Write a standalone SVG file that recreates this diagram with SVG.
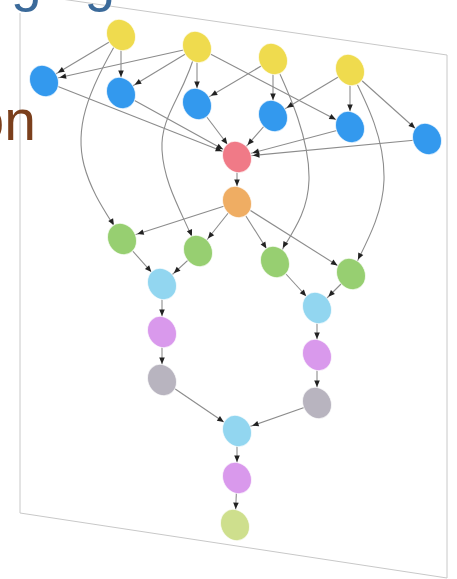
<svg xmlns="http://www.w3.org/2000/svg" width="457" height="579" viewBox="0 0 457 579">
<style>
.e{fill:none;stroke:#8c8c8c;stroke-width:1.1;marker-end:url(#a)}
.n circle{stroke:#fff;stroke-opacity:.7;stroke-width:1}
.y{fill:#efdb4e}.b{fill:#3399ee}.r{fill:#f07a87}.o{fill:#efad63}.g{fill:#97cf71}.c{fill:#92d6f0}.p{fill:#d999ec}.s{fill:#b8b4bf}.l{fill:#cedf8d}
.t{font-family:"Liberation Sans",Arial,sans-serif}
</style>
<defs>
<marker id="a" markerUnits="userSpaceOnUse" viewBox="-30 -5 40 10" markerWidth="40" markerHeight="10" refX="0" refY="0" orient="auto" overflow="visible">
<path d="M-22.5,-2.8 L-16,0 L-22.5,2.8 z" fill="#222"/>
</marker>
</defs>
<rect width="457" height="579" fill="#fff"/>
<path d="M20,13 V513 L447,578 V55 L20,-7" fill="none" stroke="#c8c8c8" stroke-width="1"/>
<text class="t" x="11" y="-0.5" font-size="55" fill="#3b6a9a">ging</text>
<text class="t" x="36" y="140" font-size="57" fill="#7b3f1c" text-anchor="end">on</text>
<g id="edges">
<path class="e" d="M121,35 L44,81"/>
<path class="e" d="M121,35 L121,93"/>
<path class="e" d="M121,35 C85,95 75,130 84,165 C92,195 108,215 122,239"/>
<path class="e" d="M197,47 L44,81"/>
<path class="e" d="M197,47 L121,93"/>
<path class="e" d="M197,47 L197,104"/>
<path class="e" d="M197,47 L350,127"/>
<path class="e" d="M197,47 C185,95 160,115 162,150 C164,185 182,212 198,251"/>
<path class="e" d="M273,59 L197,104"/>
<path class="e" d="M273,59 L273,116"/>
<path class="e" d="M273,59 C290,95 310,140 309,180 C308,215 290,235 275,262"/>
<path class="e" d="M350,70 L273,116"/>
<path class="e" d="M350,70 L350,127"/>
<path class="e" d="M350,70 L427,139"/>
<path class="e" d="M350,70 C368,105 385,140 384,180 C383,215 365,245 351,274"/>
<path class="e" d="M44,81 L237,157"/>
<path class="e" d="M121,93 L237,157"/>
<path class="e" d="M197,104 L237,157"/>
<path class="e" d="M273,116 L237,157"/>
<path class="e" d="M350,127 L237,157"/>
<path class="e" d="M427,139 L237,157"/>
<path class="e" d="M237,157 L237,202"/>
<path class="e" d="M237,202 L122,239"/>
<path class="e" d="M237,202 L198,251"/>
<path class="e" d="M237,202 L275,262"/>
<path class="e" d="M237,202 L351,274"/>
<path class="e" d="M122,239 L162,284"/>
<path class="e" d="M198,251 L162,284"/>
<path class="e" d="M275,262 L317,308"/>
<path class="e" d="M351,274 L317,308"/>
<path class="e" d="M162,284 L162,332"/>
<path class="e" d="M162,332 L162,380"/>
<path class="e" d="M162,380 L237,431"/>
<path class="e" d="M317,308 L317,355"/>
<path class="e" d="M317,355 L317,403"/>
<path class="e" d="M317,403 L237,431"/>
<path class="e" d="M237,431 L237,478"/>
<path class="e" d="M237,478 L235,525"/>
</g>
<g id="y1" class="n"><circle class="y" r="14.5" transform="matrix(1,0.145,0,1.07,121,35)"/></g>
<g id="y2" class="n"><circle class="y" r="14.5" transform="matrix(1,0.145,0,1.07,197,47)"/></g>
<g id="y3" class="n"><circle class="y" r="14.5" transform="matrix(1,0.145,0,1.07,273,59)"/></g>
<g id="y4" class="n"><circle class="y" r="14.5" transform="matrix(1,0.145,0,1.07,350,70)"/></g>
<g id="b1" class="n"><circle class="b" r="14.5" transform="matrix(1,0.145,0,1.07,44,81)"/></g>
<g id="b2" class="n"><circle class="b" r="14.5" transform="matrix(1,0.145,0,1.07,121,93)"/></g>
<g id="b3" class="n"><circle class="b" r="14.5" transform="matrix(1,0.145,0,1.07,197,104)"/></g>
<g id="b4" class="n"><circle class="b" r="14.5" transform="matrix(1,0.145,0,1.07,273,116)"/></g>
<g id="b5" class="n"><circle class="b" r="14.5" transform="matrix(1,0.145,0,1.07,350,127)"/></g>
<g id="b6" class="n"><circle class="b" r="14.5" transform="matrix(1,0.145,0,1.07,427,139)"/></g>
<g id="red" class="n"><circle class="r" r="14.5" transform="matrix(1,0.145,0,1.07,237,157)"/></g>
<g id="orange" class="n"><circle class="o" r="14.5" transform="matrix(1,0.145,0,1.07,237,202)"/></g>
<g id="g1" class="n"><circle class="g" r="14.5" transform="matrix(1,0.145,0,1.07,122,239)"/></g>
<g id="g2" class="n"><circle class="g" r="14.5" transform="matrix(1,0.145,0,1.07,198,251)"/></g>
<g id="g3" class="n"><circle class="g" r="14.5" transform="matrix(1,0.145,0,1.07,275,262)"/></g>
<g id="g4" class="n"><circle class="g" r="14.5" transform="matrix(1,0.145,0,1.07,351,274)"/></g>
<g id="c1" class="n"><circle class="c" r="14.5" transform="matrix(1,0.145,0,1.07,162,284)"/></g>
<g id="c2" class="n"><circle class="c" r="14.5" transform="matrix(1,0.145,0,1.07,317,308)"/></g>
<g id="p1" class="n"><circle class="p" r="14.5" transform="matrix(1,0.145,0,1.07,162,332)"/></g>
<g id="p2" class="n"><circle class="p" r="14.5" transform="matrix(1,0.145,0,1.07,317,355)"/></g>
<g id="s1" class="n"><circle class="s" r="14.5" transform="matrix(1,0.145,0,1.07,162,380)"/></g>
<g id="s2" class="n"><circle class="s" r="14.5" transform="matrix(1,0.145,0,1.07,317,403)"/></g>
<g id="c3" class="n"><circle class="c" r="14.5" transform="matrix(1,0.145,0,1.07,237,431)"/></g>
<g id="p3" class="n"><circle class="p" r="14.5" transform="matrix(1,0.145,0,1.07,237,478)"/></g>
<g id="lg" class="n"><circle class="l" r="14.5" transform="matrix(1,0.145,0,1.07,235,525)"/></g>
</svg>
